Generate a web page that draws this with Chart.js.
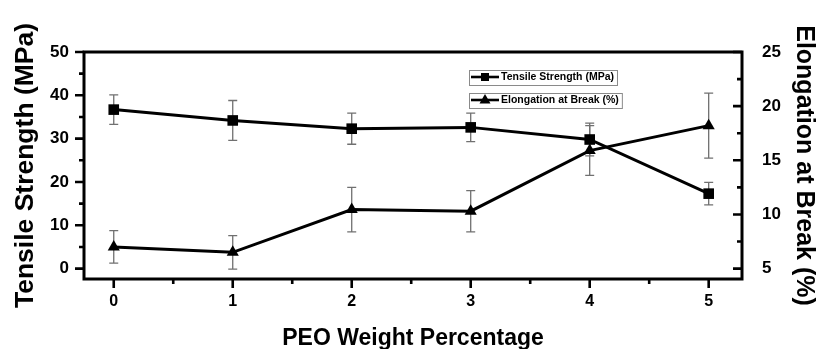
<!DOCTYPE html>
<html><head><meta charset="utf-8">
<script src="https://cdn.jsdelivr.net/npm/chart.js@4"></script>
<style>html,body{margin:0;padding:0;background:#fff}#wrap{width:818px;height:349px}</style>
</head><body><div id="wrap"><canvas id="c" width="818" height="349"></canvas></div>
<script>
const peoWeight = [0, 1, 2, 3, 4, 5];
const tensileStrength = [36.7, 34.2, 32.3, 32.6, 29.8, 17.3];
const tensileError = [3.4, 4.6, 3.6, 3.3, 3.8, 2.6];
const elongationAtBreak = [7.0, 6.5, 10.45, 10.3, 15.9, 18.2];
const elongationError = [1.5, 1.55, 2.05, 1.9, 2.3, 3.0];
const xTickValues = [0, 1, 2, 3, 4, 5];
const leftTickValues = [0, 10, 20, 30, 40, 50];
const rightTickValues = [5, 10, 15, 20, 25];
const seriesLabels = ['Tensile Strength (MPa)', 'Elongation at Break (%)'];
const axisTitles = { x: 'PEO Weight Percentage', left: 'Tensile Strength (MPa)', right: 'Elongation at Break (%)' };

const FONT = '"Liberation Sans", Arial, sans-serif';

const errorBars = {
  id: 'errorBars',
  beforeDatasetsDraw(chart) {
    const ctx = chart.ctx;
    const xs = chart.scales.x;
    chart.data.datasets.forEach(ds => {
      const ys = chart.scales[ds.yAxisID];
      ctx.save();
      ctx.strokeStyle = '#707070';
      ctx.lineWidth = 1.3;
      ds.data.forEach((p, i) => {
        const e = ds.errors[i];
        const x = xs.getPixelForValue(p.x);
        const yt = ys.getPixelForValue(p.y + e);
        const yb = ys.getPixelForValue(p.y - e);
        ctx.beginPath();
        ctx.moveTo(x, yt); ctx.lineTo(x, yb);
        ctx.moveTo(x - 4.5, yt); ctx.lineTo(x + 4.5, yt);
        ctx.moveTo(x - 4.5, yb); ctx.lineTo(x + 4.5, yb);
        ctx.stroke();
      });
      ctx.restore();
    });
  }
};

const frame = {
  id: 'frame',
  afterDraw(chart) {
    const ctx = chart.ctx;
    const a = chart.chartArea;
    const xs = chart.scales.x, yl = chart.scales.yL, yr = chart.scales.yR;
    ctx.save();
    ctx.strokeStyle = '#000';
    ctx.lineCap = 'square';
    ctx.lineWidth = 3;
    ctx.strokeRect(a.left, a.top, a.right - a.left, a.bottom - a.top);
    ctx.lineWidth = 2.6;
    ctx.lineCap = 'butt';
    const majors = s => s.ticks.map(t => t.value);
    const minors = s => { const m = majors(s); const r = []; for (let i = 0; i < m.length - 1; i++) r.push((m[i] + m[i + 1]) / 2); return r; };
    ctx.beginPath();
    majors(yl).forEach(v => { const y = yl.getPixelForValue(v); ctx.moveTo(a.left, y); ctx.lineTo(a.left - 9, y); });
    minors(yl).forEach(v => { const y = yl.getPixelForValue(v); ctx.moveTo(a.left, y); ctx.lineTo(a.left - 5, y); });
    majors(yr).forEach(v => { const y = yr.getPixelForValue(v); ctx.moveTo(a.right, y); ctx.lineTo(a.right - 9, y); });
    minors(yr).forEach(v => { const y = yr.getPixelForValue(v); ctx.moveTo(a.right, y); ctx.lineTo(a.right - 5, y); });
    majors(xs).forEach(v => { const x = xs.getPixelForValue(v); ctx.moveTo(x, a.bottom); ctx.lineTo(x, a.bottom + 9); });
    minors(xs).forEach(v => { const x = xs.getPixelForValue(v); ctx.moveTo(x, a.bottom); ctx.lineTo(x, a.bottom + 5); });
    ctx.stroke();
    ctx.restore();
  }
};

const boxLegend = {
  id: 'boxLegend',
  afterDraw(chart, args, opts) {
    const ctx = chart.ctx;
    ctx.save();
    ctx.font = 'bold 10.5px ' + FONT;
    ctx.textBaseline = 'middle';
    chart.data.datasets.forEach((ds, i) => {
      const x0 = opts.x, yc = opts.y + i * opts.gap;
      const tw = ctx.measureText(ds.label).width;
      const w = 32 + tw + 3, h = 15;
      ctx.strokeStyle = '#8a8a8a';
      ctx.lineWidth = 1;
      ctx.strokeRect(x0 + 0.5, Math.round(yc - h / 2) + 0.5, w, h);
      ctx.strokeStyle = '#000';
      ctx.lineWidth = 2.6;
      ctx.beginPath(); ctx.moveTo(x0 + 2, yc); ctx.lineTo(x0 + 30, yc); ctx.stroke();
      ctx.fillStyle = '#000';
      const mx = x0 + 16;
      if (ds.pointStyle === 'rect') {
        ctx.fillRect(mx - 4, yc - 4, 8, 8);
      } else {
        ctx.beginPath(); ctx.moveTo(mx, yc - 6); ctx.lineTo(mx + 5.5, yc + 3.5); ctx.lineTo(mx - 5.5, yc + 3.5); ctx.closePath(); ctx.fill();
      }
      ctx.fillText(ds.label, x0 + 32, yc + 0.5);
    });
    ctx.restore();
  }
};

const fixTicks = vals => scale => { scale.ticks = vals.map(v => ({ value: v })); };

new Chart(document.getElementById('c'), {
  type: 'line',
  data: {
    datasets: [
      {
        label: seriesLabels[0], yAxisID: 'yL',
        data: peoWeight.map((x, i) => ({ x, y: tensileStrength[i] })),
        errors: tensileError,
        borderColor: '#000', backgroundColor: '#000', borderWidth: 3,
        pointStyle: 'rect', pointRadius: 7.5, pointBackgroundColor: '#000', pointBorderWidth: 0,
        tension: 0, clip: false
      },
      {
        label: seriesLabels[1], yAxisID: 'yR',
        data: peoWeight.map((x, i) => ({ x, y: elongationAtBreak[i] })),
        errors: elongationError,
        borderColor: '#000', backgroundColor: '#000', borderWidth: 3,
        pointStyle: 'triangle', pointRadius: 7, pointBackgroundColor: '#000', pointBorderWidth: 0,
        tension: 0, clip: false
      }
    ]
  },
  options: {
    responsive: false, animation: false, devicePixelRatio: 1,
    layout: { padding: { top: 52, left: 0, right: 0, bottom: 0 } },
    plugins: {
      legend: { display: false }, tooltip: { enabled: false },
      boxLegend: { x: 469, y: 77, gap: 23 }
    },
    scales: {
      x: {
        type: 'linear', position: 'bottom', min: -0.25, max: 5.28,
        afterBuildTicks: fixTicks(xTickValues),
        afterFit: s => { s.height = 70; },
        grid: { display: false, drawTicks: false }, border: { display: false },
        ticks: { padding: 13, color: '#000', font: { family: FONT, size: 16, weight: 'bold' } },
        title: { display: true, text: axisTitles.x, color: '#000', padding: { top: 0, bottom: 0 },
          font: { family: FONT, size: 23, weight: 'bold', lineHeight: 0.9 } }
      },
      yL: {
        type: 'linear', position: 'left', min: -2.4, max: 50,
        afterBuildTicks: fixTicks(leftTickValues),
        afterFit: s => { s.width = 84; },
        grid: { display: false, drawTicks: false }, border: { display: false },
        ticks: { padding: 15, color: '#000', font: { family: FONT, size: 17, weight: 'bold' } },
        title: { display: true, text: axisTitles.left, color: '#000', padding: { top: 12, bottom: 0 },
          font: { family: FONT, size: 26.5, weight: 'bold', lineHeight: 1.0 } }
      },
      yR: {
        type: 'linear', position: 'right', min: 4.04, max: 25,
        afterBuildTicks: fixTicks(rightTickValues),
        afterFit: s => { s.width = 76; },
        grid: { display: false, drawTicks: false }, border: { display: false },
        ticks: { padding: 20, color: '#000', font: { family: FONT, size: 17, weight: 'bold' } },
        title: { display: true, text: axisTitles.right, color: '#000', padding: { top: 2, bottom: 0 },
          font: { family: FONT, size: 25, weight: 'bold', lineHeight: 1.0 } }
      }
    }
  },
  plugins: [errorBars, frame, boxLegend]
});
</script>
</body></html>
